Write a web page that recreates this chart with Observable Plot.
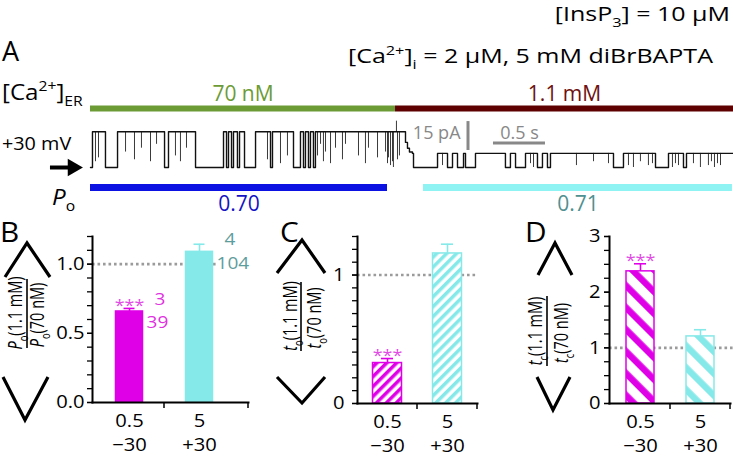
<!DOCTYPE html>
<html><head><meta charset="utf-8">
<script src="https://cdn.jsdelivr.net/npm/d3@7"></script>
<script src="https://cdn.jsdelivr.net/npm/@observablehq/plot@0.6"></script>
<style>
html,body{margin:0;padding:0;background:#fff;}
#fig{position:relative;width:733px;height:456px;overflow:hidden;background:#fff;}
.panel{position:absolute;}
</style></head><body>
<svg width="0" height="0" style="position:absolute">
 <defs>
  <pattern id="hC0" patternUnits="userSpaceOnUse" width="7" height="7" patternTransform="rotate(45)">
   <rect width="7" height="7" fill="#fff"/><rect width="3.5" height="7" fill="#e000e8"/>
  </pattern>
  <pattern id="hC1" patternUnits="userSpaceOnUse" width="7" height="7" patternTransform="rotate(45)">
   <rect width="7" height="7" fill="#fff"/><rect width="3.5" height="7" fill="#86e9e9"/>
  </pattern>
  <pattern id="hD0" patternUnits="userSpaceOnUse" width="15.5" height="15.5" patternTransform="rotate(-45)">
   <rect width="15.5" height="15.5" fill="#fff"/><rect width="6.5" height="15.5" fill="#e000e8"/>
  </pattern>
  <pattern id="hD1" patternUnits="userSpaceOnUse" width="15.5" height="15.5" patternTransform="rotate(-45)">
   <rect width="15.5" height="15.5" fill="#fff"/><rect width="6.5" height="15.5" fill="#86e9e9"/>
  </pattern>
 </defs>
</svg>
<div id="fig"></div>
<script>
const FONT = "'Open Sans', 'Noto Sans', sans-serif";

// ---------- Panel A : single-channel record (time s, current pA above closed level) ----------
const traceT = [0, 0.019, 0.144, 0.260, 0.712, 0.750, 1.010, 1.279, 1.308, 1.327,
                1.356, 1.375, 1.413, 1.433, 1.481, 1.587, 1.731, 1.750, 1.952, 2.019,
                2.048, 2.067, 2.096, 2.115, 2.144, 2.163, 3.029, 3.048, 3.067, 3.096,
                3.106, 3.337, 3.433, 3.481, 3.529, 3.587, 3.606, 3.702, 3.990, 4.038,
                4.087, 4.183, 4.298, 4.346, 4.394, 4.423, 5.029, 5.125, 5.433, 5.558,
                5.702, 5.731, 6.183];
const traceI = [0, 18.5, 0, 18.5, 0, 18.5, 0, 18.5, 0, 18.5,
                0, 18.5, 0, 18.5, 0, 18.5, 0, 18.5, 0, 18.5,
                0, 18.5, 0, 18.5, 0, 18.5, 13, 10, 8, 7.3,
                0, 7.3, 0, 7.3, 0, 7.3, 0, 7.3, 0, 7.3,
                0, 7.3, 0, 7.3, 0, 7.3, 0, 7.3, 0, 7.3,
                0, 7.3, 7.3];
// brief flickers (time s, level reached pA)
const flickT  = [0.048, 0.077, 0.337, 0.423, 0.490, 0.577, 0.635, 0.817, 0.865, 0.923,
                 1.702, 1.827, 1.894, 2.183, 2.212, 2.240, 2.260, 2.308, 2.356, 2.423,
                 2.452, 2.577, 2.644, 2.673, 2.760, 2.837, 2.856, 2.865, 2.885, 2.904,
                 2.913, 2.942, 2.952, 2.971, 3.385, 4.231, 4.260, 4.673, 4.837, 4.981,
                 5.173, 5.221, 5.288, 5.365, 5.404, 5.596, 5.625, 5.654, 5.798, 5.865,
                 5.942, 5.971, 6.000, 6.029, 6.058];
const flickTo = [3, 5, 8, 4, 10, 3, 12, 6, 3, 10,
                 4, 2, 6, 6, 12, 3, 8, 2, 10, 4,
                 12, 6, 2, 10, 5, 8, 2, 5, 1, 3,
                 0, 24, 4, 6, 1, 2, 0, 1, 3, 2,
                 1, 0, 3, 1, 2, 0, 2, 1, 2, 0,
                 1, 3, 0, 2, 1];
// [Ca2+]ER periods
const erLabels = ["70 nM", "1.1 mM"];
const erStart = [0, 2.933];
const erEnd = [2.933, 6.183];
// Po analysis periods
const poLabels = ["0.70", "0.71"];
const poStart = [0, 3.202];
const poEnd = [2.856, 6.173];

// ---------- Panels B-D ----------
const categories = ["0.5", "5"];
const voltages = ["\u221230", "+30"];
const poRatio = [0.658, 1.089];
const poErr = [0.022, 0.055];
const toRatio = [0.315, 1.168];
const toErr = [0.035, 0.072];
const tcRatio = [2.374, 1.205];
const tcErr = [0.136, 0.12];
const nPatches = [3, 4];
const nEvents = [39, 104];
const signif = ["***", ""];

const MAG = "#e000e8", CYA = "#86e9e9";
const barColor = [MAG, CYA];
const numColor = ["#e030e0", "#5e9d9d"];

const fig = document.getElementById("fig");

function stretchTexts(svg, sx) {
  d3.select(svg).selectAll("text").each(function () {
    const tr = this.getAttribute("transform");
    if (tr) this.setAttribute("transform", tr + ` scale(${sx},1)`);
  });
}

// ---------- Panel A plot ----------
const idx2 = [0, 1];
const trace = traceT.map((t, i) => ({t, I: traceI[i]}));
const flicks = flickT.map((t, i) => {
  const k = d3.bisectRight(traceT, t) - 1;
  return {t, from: traceI[k], to: flickTo[i]};
});
const plotA = Plot.plot({
  width: 733, height: 150, marginLeft: 90, marginRight: 0, marginTop: 0, marginBottom: 0,
  style: {fontFamily: FONT, background: "transparent", overflow: "visible", color: "#000"},
  x: {domain: [0, 6.183], axis: null},
  y: {domain: [-27.46, 50.26], axis: null},
  color: {type: "identity"},
  marks: [
    Plot.ruleY(idx2, {x1: i => erStart[i], x2: i => erEnd[i], y: 30.6, stroke: i => ["#6c9b36", "#5e0000"][i], strokeWidth: 6}),
    Plot.text(idx2, {x: i => (erStart[i] + erEnd[i]) / 2, y: 38.2, text: i => erLabels[i], fill: i => ["#6c9b36", "#6e1010"][i], fontSize: 21, lineAnchor: "middle"}),
    Plot.ruleX(flicks, {x: "t", y1: "from", y2: "to", stroke: "#3a3a3a", strokeWidth: 1}),
    Plot.line(trace, {x: "t", y: "I", curve: "step-after", stroke: "#111", strokeWidth: 1.4}),
    Plot.ruleY(idx2, {x1: i => poStart[i], x2: i => poEnd[i], y: -10.36, stroke: i => ["#0c12e2", "#90f3f3"][i], strokeWidth: 7}),
    Plot.text(idx2, {x: i => (poStart[i] + poEnd[i]) / 2, y: -19.3, text: i => poLabels[i], fill: i => ["#1414c4", "#4f9090"][i], fontSize: 21, lineAnchor: "middle"}),
    // scale bars: 15 pA, 0.5 s
    Plot.ruleX([3.63], {y1: 8.8, y2: 23.8, stroke: "#888", strokeWidth: 3}),
    Plot.ruleY([12.7], {x1: 3.875, x2: 4.375, stroke: "#888", strokeWidth: 3}),
    Plot.text(["15 pA"], {x: 3.558, y: 17.8, text: d => d, textAnchor: "end", fill: "#888", fontSize: 18, lineAnchor: "middle"}),
    Plot.text(["0.5 s"], {x: 4.125, y: 17.8, text: d => d, fill: "#888", fontSize: 18, lineAnchor: "middle"}),
    // closed-level marker arrow
    Plot.ruleY([0], {x1: -0.385, x2: -0.2, stroke: "#000", strokeWidth: 4}),
    Plot.dot([0], {x: -0.17, y: 0, symbol: "triangle", rotate: 90, r: 6.5, fill: "#000", stroke: null})
  ]
});
const divA = document.createElement("div");
divA.className = "panel"; divA.style.left = "0px"; divA.style.top = "70px";
divA.appendChild(plotA); fig.appendChild(divA);

// ---------- bar panels ----------
function barPanel(cfg) {
  const rows = categories.map((c, i) => ({cat: c, v: cfg.values[i], e: cfg.errs[i], i}));
  const H = 236, MT = 16;
  const minor = d3.range(0, cfg.top + 1e-9, cfg.minorStep);
  const marks = [
    Plot.ruleY([1], {stroke: "#9b9b9b", strokeWidth: 2.6, strokeDasharray: "2.6 2.9", insetRight: cfg.dotInset}),
    Plot.barY(rows, {x: "cat", y: "v", fill: d => cfg.fills[d.i], stroke: d => barColor[d.i], strokeWidth: 1.5, insetLeft: cfg.bi, insetRight: cfg.bi}),
    Plot.ruleX(rows, {x: "cat", y1: "v", y2: d => d.v + d.e, stroke: d => barColor[d.i], strokeWidth: 1.6}),
    Plot.tickY(rows, {x: "cat", y: d => d.v + d.e, stroke: d => barColor[d.i], strokeWidth: 1.6, insetLeft: cfg.ci, insetRight: cfg.ci}),
    Plot.text(rows, {filter: d => signif[d.i], x: "cat", y: d => d.v + d.e, text: d => signif[d.i], fill: "#e24ae6", fontSize: 16, lineAnchor: "middle", dy: -3}),
    Plot.axisY({ticks: minor, tickSize: 5, tickFormat: () => "", strokeWidth: 1.3, label: null}),
    Plot.axisY({ticks: cfg.major, tickSize: 5, tickPadding: cfg.tp, tickFormat: cfg.fmt, fontSize: 18, strokeWidth: 1.3, label: null}),
    Plot.axisX({tickSize: 0, tickPadding: 8, fontSize: 18, lineHeight: 1.3, label: null,
      tickFormat: d => `${d}\n${voltages[categories.indexOf(d)]}`}),
    Plot.frame({anchor: "left", strokeWidth: 2}),
    Plot.frame({anchor: "bottom", strokeWidth: 2})
  ];
  if (cfg.counts) {
    marks.push(Plot.text(rows, {x: "cat", y: "v", text: d => String(nPatches[d.i]), fill: d => numColor[d.i], fontSize: 17, textAnchor: "start", lineAnchor: "middle", dx: 25, dy: -12}));
    marks.push(Plot.text(rows, {x: "cat", y: "v", text: d => String(nEvents[d.i]), fill: d => numColor[d.i], fontSize: 17, textAnchor: "start", lineAnchor: "middle", dx: 17, dy: 11.5}));
  }
  const plot = Plot.plot({
    width: cfg.width, height: H, marginLeft: cfg.ml, marginRight: cfg.mr, marginTop: MT, marginBottom: cfg.mb,
    style: {fontFamily: FONT, background: "transparent", overflow: "visible", color: "#000"},
    x: {type: "band", domain: categories, paddingInner: 0, paddingOuter: cfg.po, align: cfg.align, axis: null, label: null},
    y: {domain: [0, cfg.top], axis: null, label: null},
    color: {type: "identity"},
    marks
  });
  stretchTexts(plot, 1.12);
  // x-axis ticks at category boundaries
  const xs = plot.scale("x");
  const y0 = H - cfg.mb;
  const sel = d3.select(plot);
  [xs.apply(categories[1]), cfg.width - cfg.mr].forEach(x =>
    sel.append("line").attr("x1", x).attr("x2", x).attr("y1", y0).attr("y2", y0 + 6)
      .attr("stroke", "#000").attr("stroke-width", 1.5));
  const div = document.createElement("div");
  div.className = "panel"; div.style.left = cfg.left + "px"; div.style.top = "220px";
  div.appendChild(plot); fig.appendChild(div);
}

barPanel({left: 0, width: 250, ml: 92, mr: 2, mb: 54, top: 1.2, po: 0.1, align: 0.1,
  values: poRatio, errs: poErr, fills: [MAG, CYA], bi: 21.5, ci: 29.5, dotInset: 31,
  major: [0, 0.5, 1], fmt: d3.format(".1f"), minorStep: 0.1, tp: 3, counts: true});
barPanel({left: 250, width: 240, ml: 107, mr: 13, mb: 53, top: 1.3, po: 0, align: 0.5,
  values: toRatio, errs: toErr, fills: ["url(#hC0)", "url(#hC1)"], bi: 15.5, ci: 24, dotInset: 0,
  major: [0, 1], fmt: d3.format("d"), minorStep: 0.1, tp: 8});
barPanel({left: 490, width: 243, ml: 119, mr: 3, mb: 53, top: 3, po: 0, align: 0.5,
  values: tcRatio, errs: tcErr, fills: ["url(#hD0)", "url(#hD1)"], bi: 16, ci: 24, dotInset: -3,
  major: [0, 1, 2, 3], fmt: d3.format("d"), minorStep: 0.25, tp: 4});

// ---------- overlay text & decorations ----------
const ov = d3.select(fig).append("svg").attr("width", 733).attr("height", 456)
  .style("position", "absolute").style("left", "0px").style("top", "0px")
  .style("overflow", "visible").style("pointer-events", "none")
  .attr("font-family", FONT);

function rich(parts, {x = 0, y = 0, size = 20, anchor = "start", fill = "#000", sx = 1, transform = null} = {}) {
  const t = ov.append("text").attr("font-size", size).attr("text-anchor", anchor).attr("fill", fill);
  t.attr("transform", transform || `translate(${x},${y}) scale(${sx},1)`);
  let shift = 0;
  for (const p of parts) {
    const [s, kind] = typeof p === "string" ? [p, ""] : p;
    const ts = t.append("tspan").text(s);
    let target = 0, fs = size;
    if (kind.includes("sup")) { target = -0.42 * size; fs = 0.65 * size; }
    if (kind.includes("sub")) { target = 0.28 * size; fs = 0.65 * size; }
    ts.attr("font-size", fs);
    if (target !== shift) { ts.attr("dy", target - shift); shift = target; }
    if (kind.includes("it")) ts.attr("font-style", "italic");
  }
  return t;
}

rich(["[InsP", ["3", "sub"], "] = 10 \u03bcM"], {x: 730, y: 21, size: 20, anchor: "end", sx: 1.25});
rich(["A"], {x: 2, y: 61, size: 27});
rich(["[Ca", ["2+", "sup"], "]", ["i", "sub"], " = 2 \u03bcM, 5 mM diBrBAPTA"], {x: 348, y: 63, size: 20, sx: 1.25});
rich(["[Ca", ["2+", "sup"], "]", ["ER", "sub"]], {x: 2, y: 100, size: 21, sx: 1.15});
rich(["+30 mV"], {x: 2, y: 150, size: 18, sx: 1.1});
rich([["P", "it"], ["o", "sub"]], {x: 52, y: 205, size: 21, sx: 1.15});
rich(["B"], {x: 0, y: 242, size: 27, sx: 1.1});
rich(["C"], {x: 280, y: 242, size: 27, sx: 1.1});
rich(["D"], {x: 525, y: 242, size: 27, sx: 1.1});

// rotated ratio labels with angle brackets
function ratioLabel(sym, sub, {numX, denX, cy, lineX, y1, y2}, brackets) {
  rich([[sym, "it"], [sub, "sub"], "(1.1 mM)"], {size: 14.5, anchor: "middle", transform: `translate(${numX},${cy}) rotate(-90) scale(1,1.4)`});
  rich([[sym, "it"], [sub, "sub"], "(70 nM)"], {size: 14.5, anchor: "middle", transform: `translate(${denX},${cy + 2}) rotate(-90) scale(1,1.4)`});
  ov.append("line").attr("x1", lineX).attr("x2", lineX).attr("y1", y1).attr("y2", y2).attr("stroke", "#000").attr("stroke-width", 1.6);
  for (const b of brackets) {
    ov.append("path").attr("d", d3.line()(b)).attr("fill", "none").attr("stroke", "#000")
      .attr("stroke-width", 3.2).attr("stroke-linejoin", "miter");
  }
}
ratioLabel("P", "o", {numX: 22, denX: 44, cy: 313, lineX: 27, y1: 279, y2: 348},
  [[[5, 277], [27, 243], [50, 277]], [[3, 377], [25, 420], [48, 377]]]);
ratioLabel("t", "o", {numX: 297, denX: 321, cy: 316, lineX: 301, y1: 282, y2: 351},
  [[[277, 273], [302, 240], [325, 273]], [[277, 377], [302, 403], [325, 377]]]);
ratioLabel("t", "c", {numX: 542, denX: 568, cy: 331, lineX: 547, y1: 296, y2: 366},
  [[[538, 275], [555, 243], [572, 275]], [[537, 377], [553, 410], [570, 377]]]);
</script></body></html>
